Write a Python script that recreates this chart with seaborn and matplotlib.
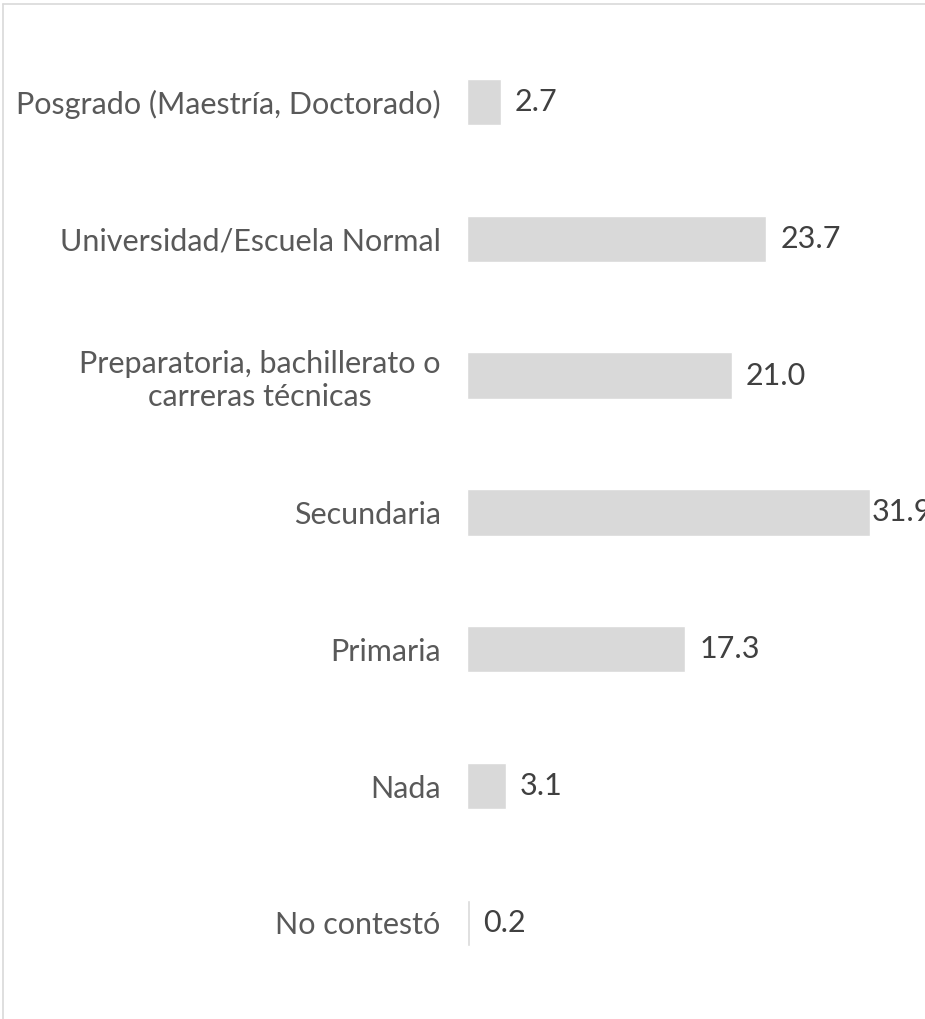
import matplotlib
matplotlib.use("Agg")
from matplotlib import pyplot as plt
from matplotlib.lines import Line2D
import seaborn as sns
import pandas as pd

categories = [
    "Posgrado (Maestría, Doctorado)",
    "Universidad/Escuela Normal",
    "Preparatoria, bachillerato o\ncarreras técnicas",
    "Secundaria",
    "Primaria",
    "Nada",
    "No contestó",
]
values = [2.7, 23.7, 21.0, 31.9, 17.3, 3.1, 0.2]

df = pd.DataFrame({"nivel": categories, "pct": values})

sns.set_theme(style="white")
plt.rcParams["font.family"] = ["Lato", "DejaVu Sans"]

W, H = 925, 1019
fig = plt.figure(figsize=(W / 100, H / 100), dpi=100)
ax = fig.add_axes([467 / W, 0, 1 - 467 / W, 1])

sns.barplot(data=df, y="nivel", x="pct", orient="h", color="#D9D9D9",
            width=0.34, saturation=1, ax=ax)

ax.set_xlim(0, (W - 467) / 12.63)
ax.set_ylim((H - 102) / 136.8, -102 / 136.8)

labels = ax.bar_label(ax.containers[0], fmt="%.1f", padding=10, fontsize=22, color="#404040")
# the longest bar's label is pushed in against the bar end, as in the original
labels[3].set_position((1.5, 0))

ax.set_xlabel("")
ax.set_ylabel("")
ax.set_xticks([])
ax.tick_params(axis="y", length=0, pad=19, labelsize=22, labelcolor="#595959")
for t in ax.get_yticklabels():
    t.set_multialignment("center")
for s in ax.spines.values():
    s.set_visible(False)

# outer chart border (top and left visible in the crop)
fig.add_artist(Line2D([2.5 / W, 2.5 / W], [0, 1 - 3.5 / H], color="#D9D9D9", lw=1.2))
fig.add_artist(Line2D([2.5 / W, 1], [1 - 3.5 / H, 1 - 3.5 / H], color="#D9D9D9", lw=1.2))

fig.savefig("out.png", dpi=100)
